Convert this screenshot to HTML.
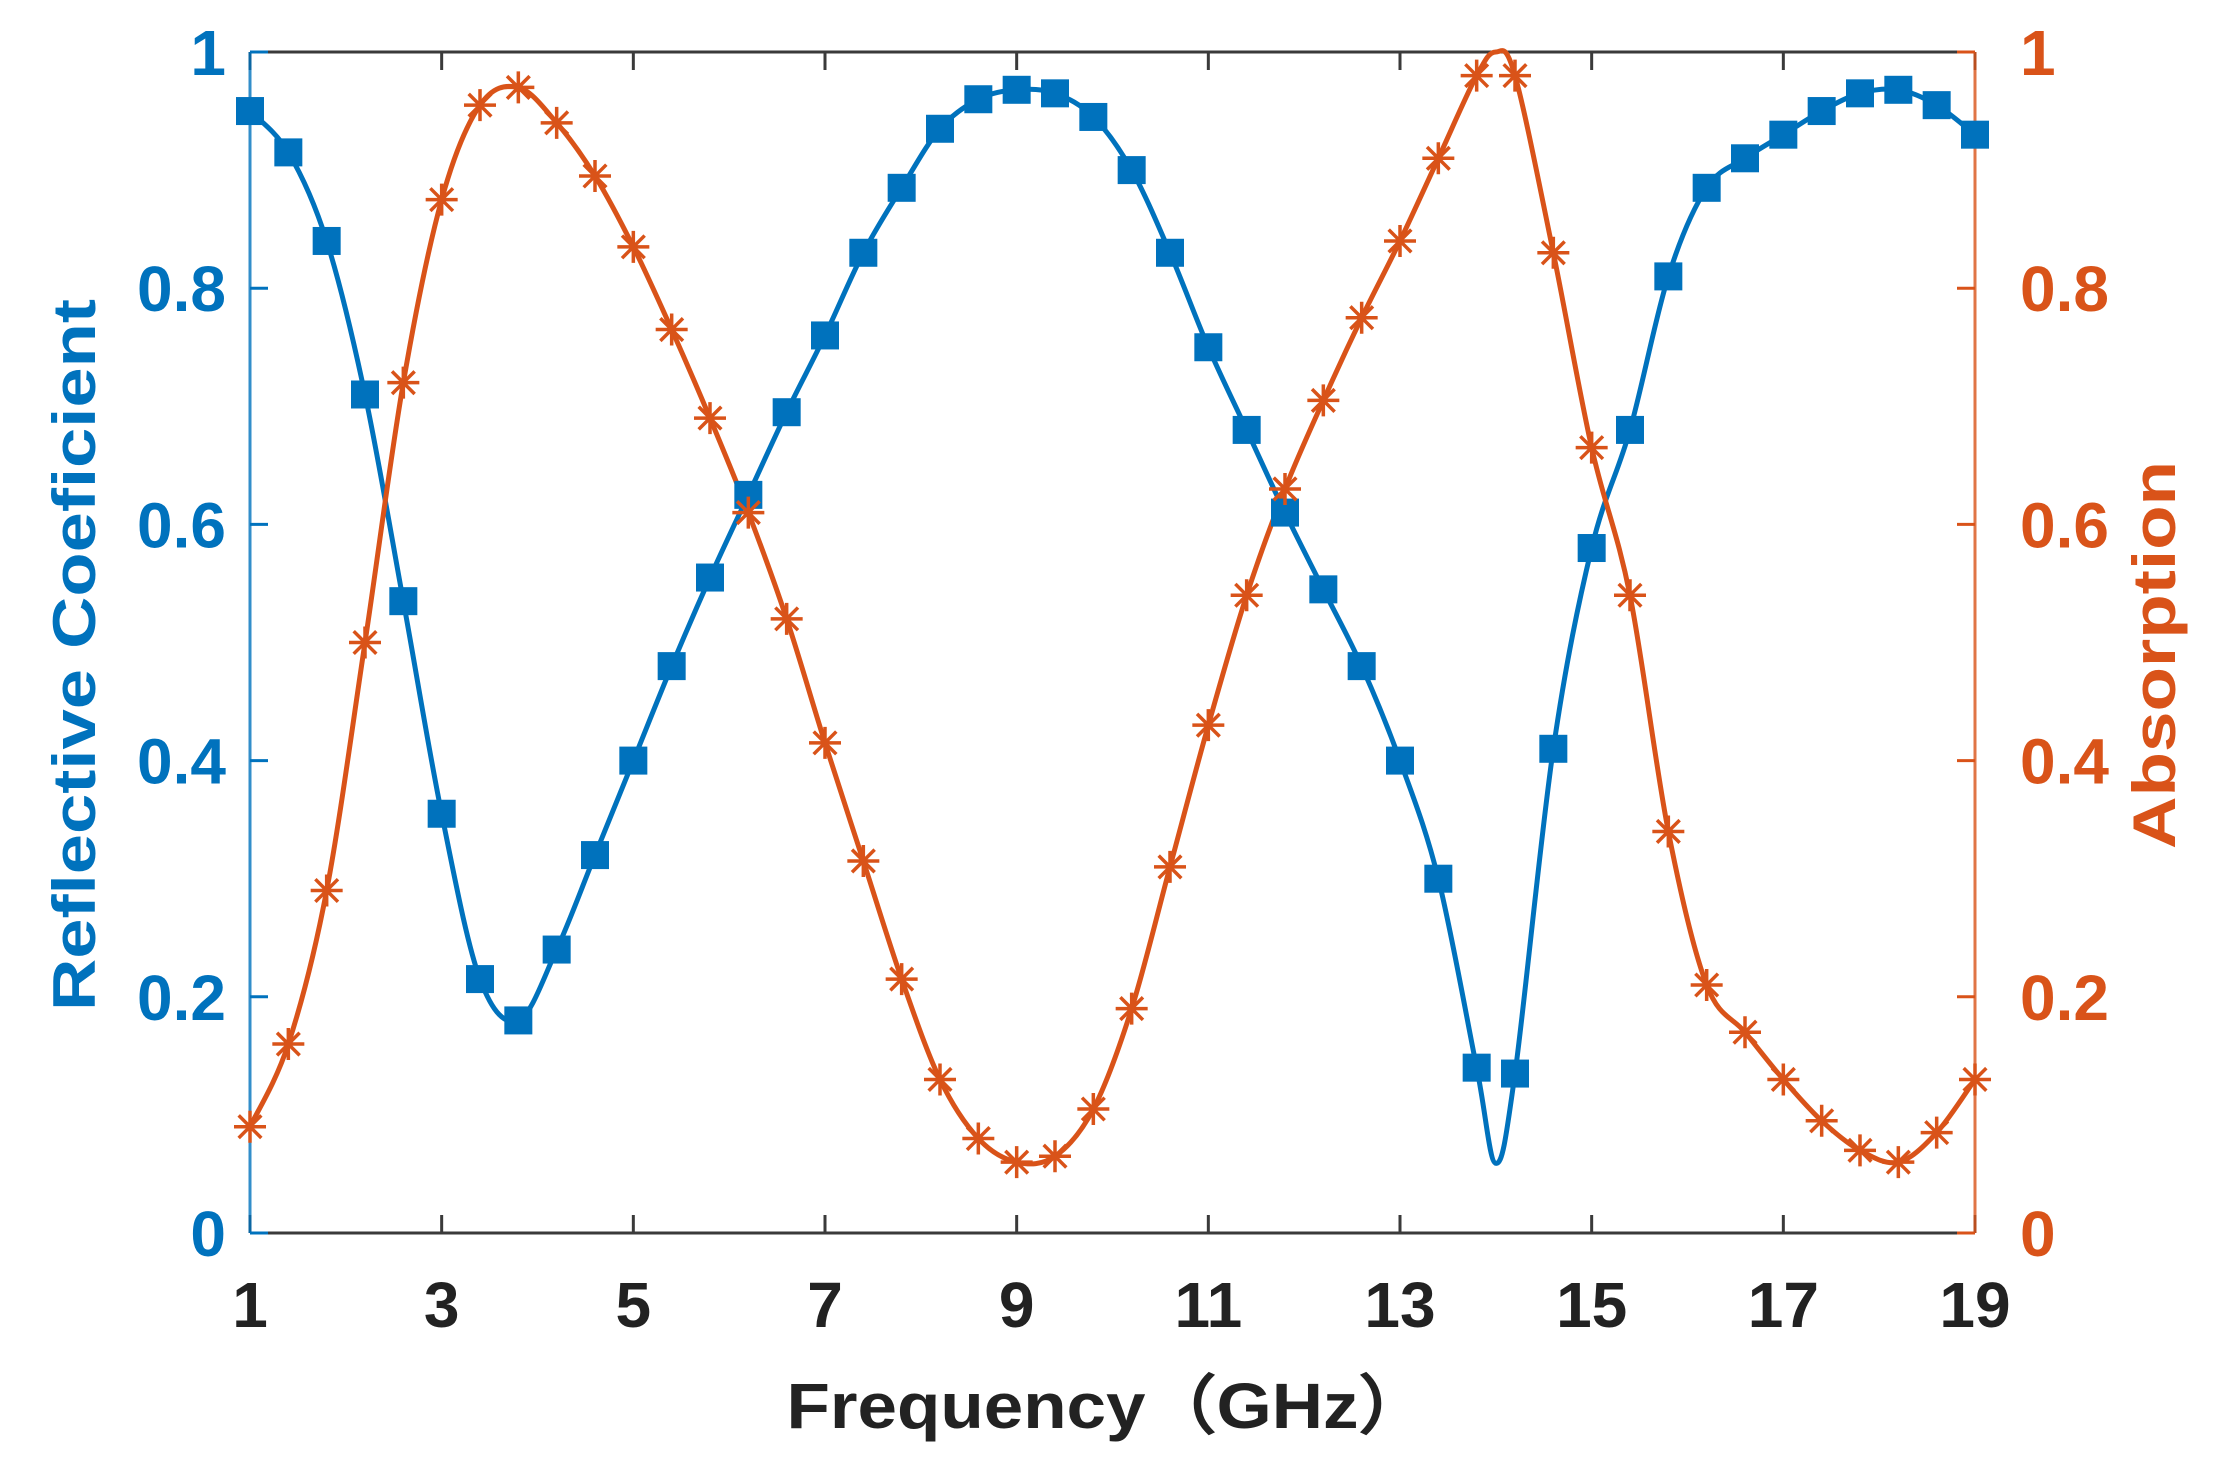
<!DOCTYPE html>
<html><head><meta charset="utf-8"><style>
html,body{margin:0;padding:0;background:#fff;}
svg{display:block;}
text{font-family:"Liberation Sans",Arial,sans-serif;font-weight:bold;}
</style></head><body>
<svg id="s" width="2230" height="1460" xmlns="http://www.w3.org/2000/svg"></svg>
<script>
const L=250,R=1975,T=52,B=1233;
const X=f=>L+(f-1)*(R-L)/18, Y=v=>B-v*(B-T);
const blue="#0072BD", org="#D95319";
const fs=[];for(let i=0;i<=45;i++)fs.push(+(1+i*0.4).toFixed(1));
const bv=[0.95,0.915,0.84,0.71,0.535,0.355,0.215,0.18,0.24,0.32,0.40,0.48,0.555,0.625,0.695,0.76,0.83,0.885,0.935,0.96,0.968,0.965,0.945,0.90,0.83,0.75,0.68,0.61,0.545,0.48,0.40,0.30,0.14,0.135,0.41,0.58,0.68,0.81,0.885,0.91,0.93,0.95,0.965,0.968,0.955,0.93];
const ov=[0.09,0.16,0.29,0.50,0.72,0.875,0.955,0.97,0.94,0.895,0.835,0.765,0.69,0.61,0.52,0.415,0.315,0.215,0.13,0.08,0.06,0.065,0.105,0.19,0.31,0.43,0.54,0.63,0.705,0.775,0.84,0.91,0.98,0.98,0.83,0.665,0.54,0.34,0.21,0.17,0.13,0.095,0.07,0.06,0.085,0.13];
function pts(vals,extra){let p=fs.map((f,i)=>[X(f),Y(vals[i])]);if(extra){p.push([X(extra[0]),Y(extra[1])]);p.sort((a,b)=>a[0]-b[0]);}return p;}
function cr(p){let d="M"+p[0][0]+","+p[0][1];for(let i=0;i<p.length-1;i++){const p0=p[i-1]||p[i],p1=p[i],p2=p[i+1],p3=p[i+2]||p2;const t=6;d+=` C${p1[0]+(p2[0]-p0[0])/t},${p1[1]+(p2[1]-p0[1])/t} ${p2[0]-(p3[0]-p1[0])/t},${p2[1]-(p3[1]-p1[1])/t} ${p2[0]},${p2[1]}`;}return d;}
let h="";
h+=`<line x1="${L}" y1="${B}" x2="${R}" y2="${B}" stroke="#3a3a3a" stroke-width="3"/>`;
h+=`<line x1="${L}" y1="${T}" x2="${R}" y2="${T}" stroke="#3a3a3a" stroke-width="3"/>`;
for(let f=1;f<=19;f+=2){const x=X(f);h+=`<line x1="${x}" y1="${B}" x2="${x}" y2="${B-18}" stroke="#3a3a3a" stroke-width="3"/><line x1="${x}" y1="${T}" x2="${x}" y2="${T+18}" stroke="#3a3a3a" stroke-width="3"/>`;
h+=`<text x="${x}" y="1327" font-size="64" fill="#222" text-anchor="middle">${f}</text>`;}
h+=`<line x1="${L}" y1="${T}" x2="${L}" y2="${B}" stroke="${blue}" stroke-width="3" opacity="0.8"/>`;
h+=`<line x1="${R}" y1="${T}" x2="${R}" y2="${B}" stroke="${org}" stroke-width="3" opacity="0.8"/>`;
["0","0.2","0.4","0.6","0.8","1"].forEach((s,i)=>{const y=Y(i*0.2);
h+=`<line x1="${L}" y1="${y}" x2="${L+18}" y2="${y}" stroke="${blue}" stroke-width="3"/>`;
h+=`<line x1="${R}" y1="${y}" x2="${R-18}" y2="${y}" stroke="${org}" stroke-width="3"/>`;
h+=`<text x="226" y="${y+23}" font-size="64" fill="${blue}" text-anchor="end">${s}</text>`;
h+=`<text x="2020" y="${y+23}" font-size="64" fill="${org}">${s}</text>`;});
h+=`<path d="${cr(pts(bv,[14.0,0.059]))}" fill="none" stroke="${blue}" stroke-width="5"/>`;
h+=`<path d="${cr(pts(ov,[14.0,1.0]))}" fill="none" stroke="${org}" stroke-width="5"/>`;
fs.forEach((f,i)=>{const x=X(f),y=Y(bv[i]);h+=`<rect x="${x-14}" y="${y-14}" width="28" height="28" fill="${blue}"/>`;});
fs.forEach((f,i)=>{const x=X(f),y=Y(ov[i]),r=16;let g="";for(let k=0;k<4;k++){const a=k*Math.PI/4;g+=`M${x-r*Math.cos(a)},${y-r*Math.sin(a)}L${x+r*Math.cos(a)},${y+r*Math.sin(a)}`;}h+=`<path d="${g}" stroke="${org}" stroke-width="3.5" fill="none"/>`;});
h+=`<text transform="translate(95,655) rotate(-90)" font-size="60" fill="${blue}" text-anchor="middle" textLength="712" lengthAdjust="spacingAndGlyphs">Reflective Coeficient</text>`;
h+=`<text transform="translate(2175,655) rotate(-90)" font-size="60" fill="${org}" text-anchor="middle" textLength="388" lengthAdjust="spacingAndGlyphs">Absorption</text>`;
h+=`<text x="1108" y="1428" font-size="64" fill="#222" text-anchor="middle" textLength="643" lengthAdjust="spacingAndGlyphs">Frequency（GHz）</text>`;
document.getElementById("s").innerHTML=h;
</script>
</body></html>
